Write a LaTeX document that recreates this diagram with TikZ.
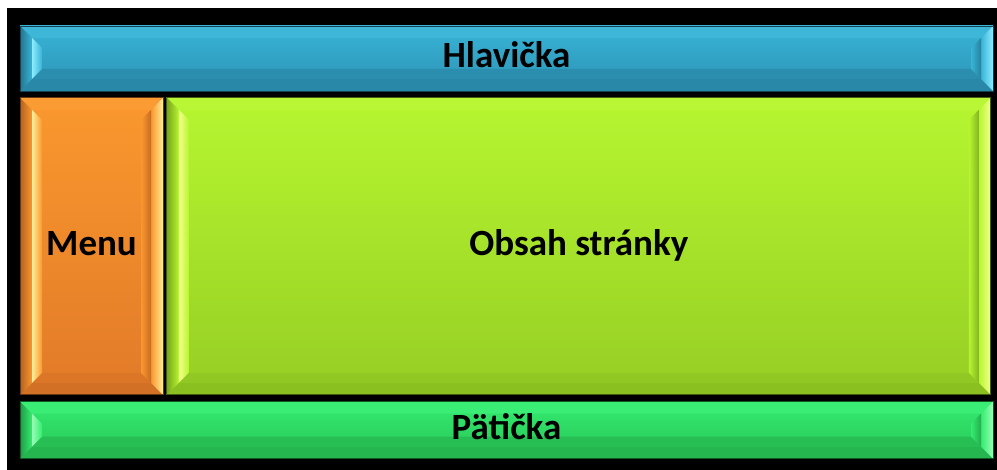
\documentclass[tikz,border=0pt]{standalone}
\usepackage{fontspec}
\setmainfont{Carlito}
\usetikzlibrary{positioning, calc}

% Panel colours: body top, body bottom, lit bevel edge
\definecolor{headtop}{RGB}{56,180,214}
\definecolor{headbot}{RGB}{44,146,180}
\definecolor{headlit}{RGB}{140,236,255}
\definecolor{menutop}{RGB}{250,152,46}
\definecolor{menubot}{RGB}{226,122,40}
\definecolor{menulit}{RGB}{255,236,150}
\definecolor{maintop}{RGB}{182,246,48}
\definecolor{mainbot}{RGB}{150,206,36}
\definecolor{mainlit}{RGB}{245,255,140}
\definecolor{foottop}{RGB}{52,236,112}
\definecolor{footbot}{RGB}{40,196,86}
\definecolor{footlit}{RGB}{150,255,180}

% Two bevel rings inside a panel, lit from the right
\newcommand{\bevelpanel}[1]{%
  \path let \p1=(path picture bounding box.south west),
            \p2=(path picture bounding box.north east) in
    coordinate (sw) at (\x1,\y1) coordinate (nw) at (\x1,\y2)
    coordinate (ne) at (\x2,\y2) coordinate (se) at (\x2,\y1)
    coordinate (sw1) at (\x1+12pt,\y1+12pt) coordinate (nw1) at (\x1+12pt,\y2-12pt)
    coordinate (ne1) at (\x2-12pt,\y2-12pt) coordinate (se1) at (\x2-12pt,\y1+12pt)
    coordinate (sw2) at (\x1+22pt,\y1+22pt) coordinate (nw2) at (\x1+22pt,\y2-22pt)
    coordinate (ne2) at (\x2-22pt,\y2-22pt) coordinate (se2) at (\x2-22pt,\y1+22pt);
  % outer ring
  \fill[#1top!97!white] (nw) -- (ne) -- (ne1) -- (nw1) -- cycle;
  \fill[#1bot!93!black] (sw) -- (se) -- (se1) -- (sw1) -- cycle;
  \shade[left color=#1bot!80!black, right color=#1top] (sw) -- (nw) -- (nw1) -- (sw1) -- cycle;
  \shade[left color=#1top, right color=#1lit] (se) -- (ne) -- (ne1) -- (se1) -- cycle;
  % inner ring
  \fill[#1bot!97!black] (sw1) -- (se1) -- (se2) -- (sw2) -- cycle;
  \shade[left color=#1lit, right color=#1top] (sw1) -- (nw1) -- (nw2) -- (sw2) -- cycle;
  \shade[left color=#1top, right color=#1bot!88!black] (se1) -- (ne1) -- (ne2) -- (se2) -- cycle;
}

\tikzset{
  % Page layout panels
  panel/.style={draw=#1bot!45!black, line width=0.8pt, top color=#1top, bottom color=#1bot,
    inner sep=0pt, text height=26pt, text depth=7pt,
    font=\bfseries\fontsize{37}{40}\selectfont, path picture={\bevelpanel{#1}}},
}

\begin{document}
\begin{tikzpicture}
  \useasboundingbox (0,0) rectangle (997pt,-470pt);
  \fill[black] (7pt,-8pt) rectangle (997pt,-470pt);

  \node[panel=head, minimum width=973pt, minimum height=65pt] (head) at (506.5pt,-58.5pt) {Hlavička};
  \node[panel=menu, minimum width=143pt, minimum height=297pt, below=6pt of head.south west, anchor=north west] (menu) {Menu};
  \node[panel=main, minimum width=824pt, minimum height=297pt, right=3pt of menu] (main) {Obsah stránky};
  \node[panel=foot, minimum width=973pt, minimum height=57pt, below=6pt of menu.south west, anchor=north west] (foot) {Pätička};

\end{tikzpicture}
\end{document}
